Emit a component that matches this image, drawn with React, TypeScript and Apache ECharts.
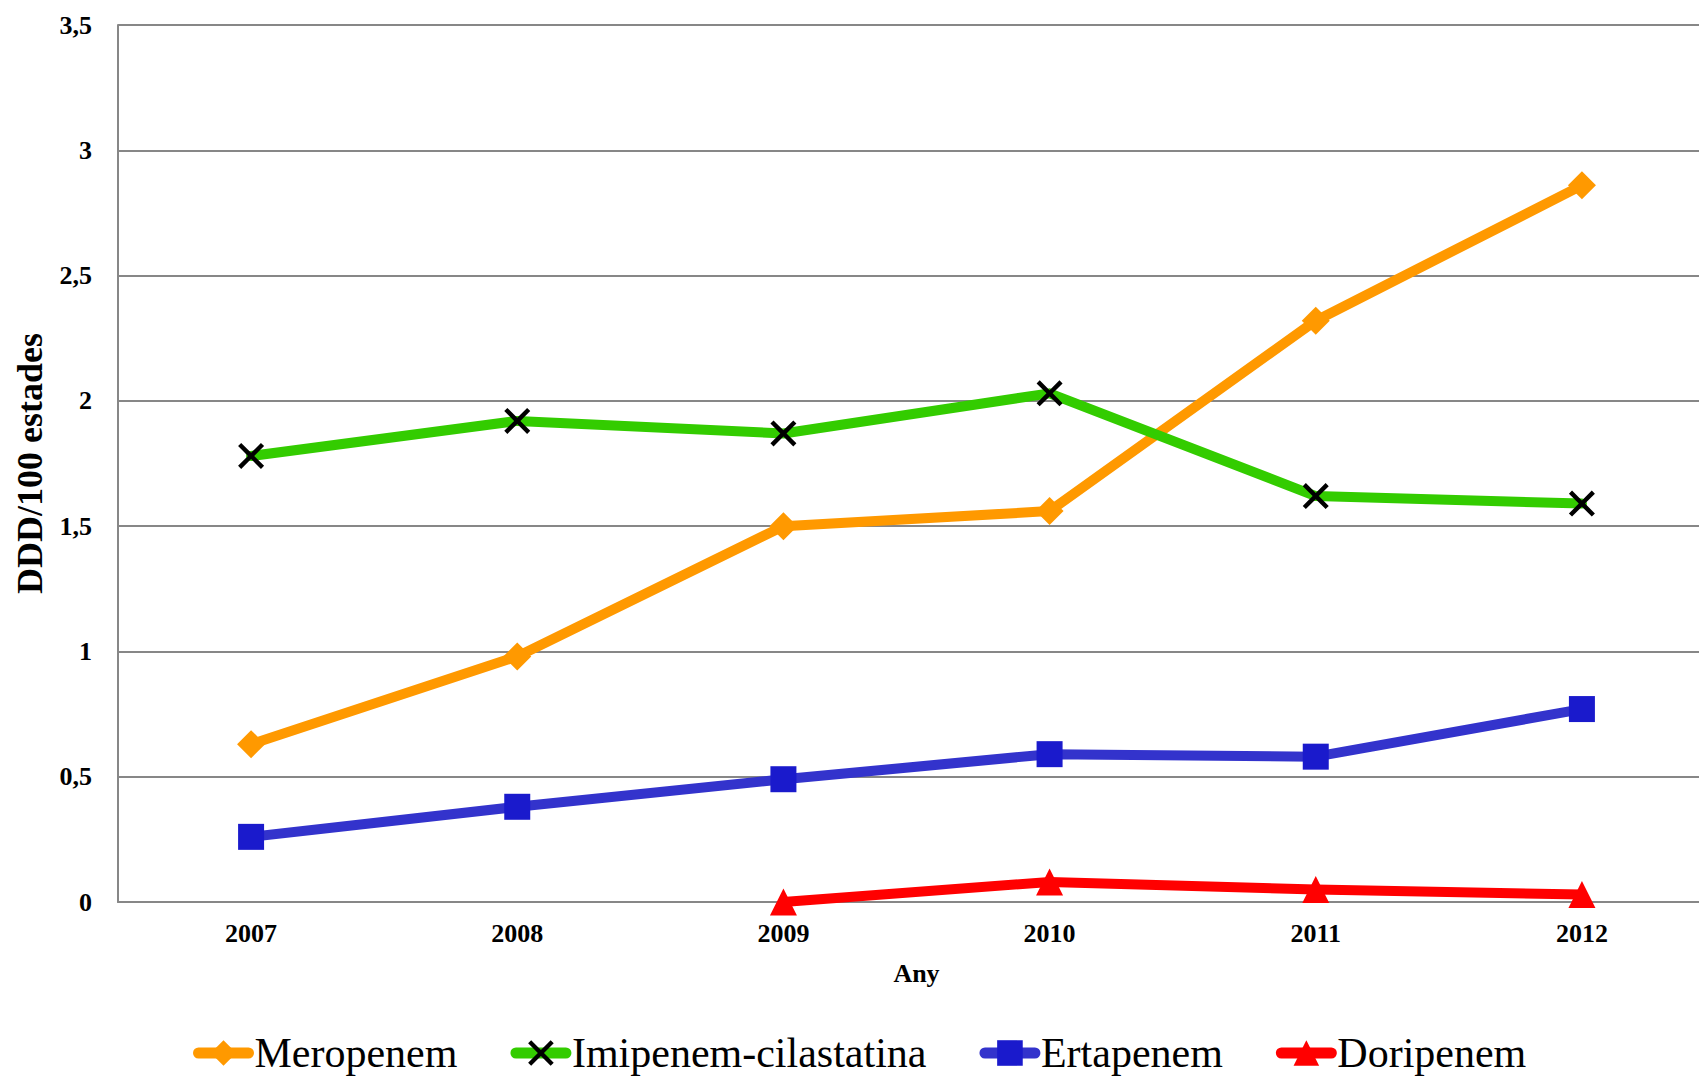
import React, { useEffect, useRef } from "react";
import * as echarts from "echarts";

const years = ["2007", "2008", "2009", "2010", "2011", "2012"];
const meropenem = [0.63, 0.98, 1.5, 1.56, 2.32, 2.86];
const imipenem = [1.78, 1.92, 1.87, 2.03, 1.62, 1.59];
const ertapenem = [0.26, 0.38, 0.49, 0.59, 0.58, 0.77];
const doripenem = [null, null, 0.0, 0.08, 0.05, 0.03];

const yTicks = { min: 0, max: 3.5, interval: 0.5 };

// A filled "X" glyph for the imipenem markers.
const CROSS =
  "path://M0,1.2L1.2,0L5,3.8L8.8,0L10,1.2L6.2,5L10,8.8L8.8,10L5,6.2L1.2,10L0,8.8L3.8,5Z";

const FONT = "'Liberation Serif', 'Times New Roman', serif";
const GRID_GRAY = "#878787";

export default function App() {
  const ref = useRef<HTMLDivElement>(null);

  useEffect(() => {
    if (!ref.current) return;
    const chart = echarts.init(ref.current, undefined, { renderer: "svg" });

    const mk = (
      name: string,
      data: (number | null)[],
      lineColor: string,
      symbolColor: string,
      symbol: string,
      size: number
    ) => ({
      name,
      type: "line",
      data,
      symbol,
      symbolSize: size,
      showAllSymbol: true,
      lineStyle: { color: lineColor, width: 10, cap: "round", join: "round" },
      itemStyle: { color: symbolColor },
      emphasis: { disabled: true },
    });

    chart.setOption({
      animation: false,
      textStyle: { fontFamily: FONT, color: "#000" },
      grid: {
        left: 118,
        right: -16,
        top: 25,
        bottom: 174,
        containLabel: false,
        outerBoundsMode: "none",
      },
      legend: {
        left: 188,
        top: 1027,
        itemWidth: 50,
        itemHeight: 32,
        itemGap: 53,
        lineStyle: { width: 11, cap: "round" },
        textStyle: { fontFamily: FONT, fontSize: 42, color: "#000", padding: [0, 0, 0, 1] },
        data: ["Meropenem", "Imipenem-cilastatina", "Ertapenem", "Doripenem"],
      },
      xAxis: {
        type: "category",
        data: years,
        boundaryGap: true,
        name: "Any",
        nameLocation: "middle",
        nameGap: 58,
        nameTextStyle: { fontFamily: FONT, fontSize: 26, fontWeight: "bold", color: "#000" },
        axisLine: { show: true, lineStyle: { color: GRID_GRAY, width: 2 } },
        axisTick: { show: false },
        axisLabel: { fontFamily: FONT, fontSize: 26, fontWeight: "bold", color: "#000", margin: 18 },
        splitLine: { show: false },
      },
      yAxis: {
        type: "value",
        min: yTicks.min,
        max: yTicks.max,
        interval: yTicks.interval,
        name: "DDD/100 estades",
        nameLocation: "middle",
        nameGap: 70,
        nameTextStyle: { fontFamily: FONT, fontSize: 36, fontWeight: "bold", color: "#000" },
        axisLine: { show: true, lineStyle: { color: GRID_GRAY, width: 2 } },
        axisTick: { show: false },
        axisLabel: {
          fontFamily: FONT,
          fontSize: 26,
          fontWeight: "bold",
          color: "#000",
          margin: 26,
          formatter: (v: number) => String(v).replace(".", ","),
        },
        splitLine: { show: true, lineStyle: { color: GRID_GRAY, width: 2 } },
      },
      series: [
        mk("Meropenem", meropenem, "#FF9900", "#FF9900", "diamond", 28),
        mk("Imipenem-cilastatina", imipenem, "#33CC00", "#000000", CROSS, 26),
        mk("Ertapenem", ertapenem, "#3333CC", "#1A1ACC", "rect", 26),
        mk("Doripenem", doripenem, "#FF0000", "#FF0000", "triangle", 27),
      ],
    });

    return () => chart.dispose();
  }, []);

  return (
    <div
      ref={ref}
      style={{ position: "absolute", left: 0, top: 0, width: 1699, height: 1076, background: "#fff" }}
    />
  );
}
